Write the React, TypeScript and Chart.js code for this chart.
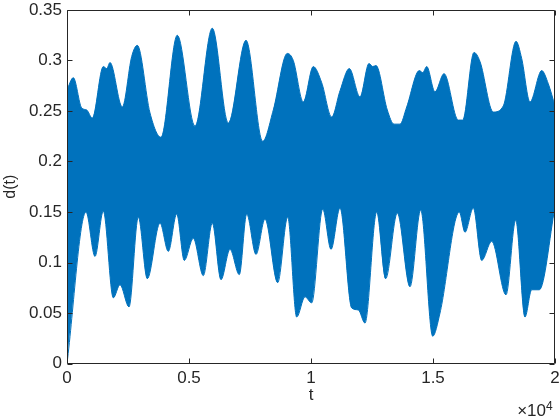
import React, { useEffect, useRef } from "react";
import { Chart, registerables } from "chart.js";

Chart.register(...registerables);

// Upper envelope of d(t)
const tUpper = [0, 258, 602, 807, 1037, 1488, 1627, 1762, 2266, 2652, 2881, 3402, 3852, 4520, 5246, 5955, 6611, 7336, 8020, 8455, 9029, 9275, 9684, 10094, 10439, 10848, 11189, 11570, 12008, 12377, 12529, 12664, 13127, 13402, 13648, 13922, 14439, 14578, 14742, 15082, 15451, 16037, 16217, 16680, 16926, 17471, 17881, 18402, 18635, 18975, 19455, 19725, 20000];
const dUpper = [0.271, 0.283, 0.253, 0.251, 0.243, 0.294, 0.292, 0.298, 0.254, 0.304, 0.315, 0.248, 0.224, 0.325, 0.235, 0.332, 0.238, 0.320, 0.220, 0.251, 0.307, 0.300, 0.259, 0.294, 0.278, 0.244, 0.270, 0.292, 0.264, 0.297, 0.294, 0.295, 0.251, 0.237, 0.237, 0.254, 0.290, 0.288, 0.294, 0.269, 0.287, 0.241, 0.241, 0.308, 0.299, 0.249, 0.255, 0.319, 0.302, 0.259, 0.290, 0.277, 0.255];

// Lower envelope of d(t)
const tLower = [0, 779, 1148, 1488, 1898, 2172, 2541, 2922, 3291, 3811, 4152, 4496, 4807, 5176, 5586, 5955, 6311, 6680, 7061, 7365, 7746, 8115, 8635, 9045, 9414, 9754, 10029, 10480, 10820, 11189, 11668, 11939, 12213, 12693, 13061, 13537, 14057, 14496, 14988, 15287, 16078, 16311, 16652, 16996, 17406, 17992, 18389, 18770, 19045, 19357, 20000];
const dLower = [0.0, 0.150, 0.106, 0.151, 0.065, 0.078, 0.056, 0.145, 0.084, 0.139, 0.111, 0.148, 0.102, 0.124, 0.087, 0.139, 0.083, 0.113, 0.088, 0.148, 0.108, 0.143, 0.080, 0.145, 0.046, 0.066, 0.060, 0.153, 0.113, 0.154, 0.055, 0.053, 0.040, 0.150, 0.084, 0.149, 0.076, 0.152, 0.027, 0.050, 0.150, 0.130, 0.154, 0.102, 0.121, 0.068, 0.142, 0.046, 0.073, 0.073, 0.155];

const xTicks = [0, 5000, 10000, 15000, 20000];
const yTicks = [0, 0.05, 0.1, 0.15, 0.2, 0.25, 0.3, 0.35];

const BLUE = "#0072BD";
const AX = "#262626";
const FONT = "'Liberation Sans', Arial, Helvetica, sans-serif";

const boxPlugin = {
  id: "matlabBox",
  afterDraw(chart: any) {
    const { ctx, chartArea: a, scales } = chart;
    const L = Math.round(a.left) + 0.5;
    const R = Math.round(a.right) - 0.5;
    const T = Math.round(a.top) + 0.5;
    const B = Math.round(a.bottom) - 0.5;
    ctx.save();
    ctx.strokeStyle = AX;
    ctx.lineWidth = 1;
    ctx.beginPath();
    ctx.rect(L, T, R - L, B - T);
    const tl = 5;
    for (const v of xTicks) {
      const px = Math.round(scales.x.getPixelForValue(v)) + 0.5;
      ctx.moveTo(px, B);
      ctx.lineTo(px, B - tl);
      ctx.moveTo(px, T);
      ctx.lineTo(px, T + tl);
    }
    for (const v of yTicks) {
      const py = Math.round(scales.y.getPixelForValue(v)) + 0.5;
      ctx.moveTo(L, py);
      ctx.lineTo(L + tl, py);
      ctx.moveTo(R, py);
      ctx.lineTo(R - tl, py);
    }
    ctx.stroke();
    // exponent label
    ctx.fillStyle = AX;
    ctx.textBaseline = "alphabetic";
    ctx.textAlign = "right";
    ctx.font = `17px ${FONT}`;
    ctx.fillText("\u00d710", 546, 416);
    ctx.textAlign = "left";
    ctx.font = `12px ${FONT}`;
    ctx.fillText("4", 546, 410);
    ctx.restore();
  },
};

export default function App() {
  const ref = useRef<HTMLCanvasElement | null>(null);
  useEffect(() => {
    document.body.style.margin = "0";
    const upper = tUpper.map((t, i) => ({ x: t, y: dUpper[i] }));
    const lower = tLower.map((t, i) => ({ x: t, y: dLower[i] }));
    const chart = new Chart(ref.current as HTMLCanvasElement, {
      type: "line",
      data: {
        datasets: [
          {
            data: upper,
            borderColor: BLUE,
            backgroundColor: BLUE,
            borderWidth: 1,
            pointRadius: 0,
            fill: "+1",
            tension: 0.35,
            cubicInterpolationMode: "monotone",
          },
          {
            data: lower,
            borderColor: BLUE,
            backgroundColor: BLUE,
            borderWidth: 1,
            pointRadius: 0,
            fill: false,
            tension: 0.35,
            cubicInterpolationMode: "monotone",
          },
        ],
      },
      options: {
        responsive: false,
        animation: false,
        devicePixelRatio: 1,
        layout: { padding: { top: 10, right: 5, left: 0, bottom: 0 } },
        plugins: { legend: { display: false }, tooltip: { enabled: false } },
        scales: {
          x: {
            type: "linear",
            min: 0,
            max: 20000,
            afterFit: (s: any) => {
              s.height = 56.5;
              s.paddingLeft = 0;
              s.paddingRight = 0;
            },
            afterBuildTicks: (s: any) => {
              s.ticks = xTicks.map((v) => ({ value: v }));
            },
            grid: { display: false, drawTicks: false, tickLength: 0 },
            border: { display: false },
            ticks: {
              color: AX,
              font: { family: FONT, size: 17 },
              padding: 5,
              maxRotation: 0,
              callback: (v: any) => String(Number(v) / 10000),
            },
            title: {
              display: true,
              text: "t",
              color: AX,
              font: { family: FONT, size: 17 },
              padding: { top: 0, bottom: 14 },
            },
          },
          y: {
            type: "linear",
            min: 0,
            max: 0.35,
            afterFit: (s: any) => {
              s.width = 67;
              s.paddingTop = 0;
              s.paddingBottom = 0;
            },
            afterBuildTicks: (s: any) => {
              s.ticks = yTicks.map((v) => ({ value: v }));
            },
            grid: { display: false, drawTicks: false, tickLength: 0 },
            border: { display: false },
            ticks: {
              color: AX,
              font: { family: FONT, size: 17 },
              padding: 5,
              callback: (v: any) => String(Number(Number(v).toFixed(2))),
            },
            title: {
              display: true,
              text: "d(t)",
              color: AX,
              font: { family: FONT, size: 16 },
              padding: { top: 1, bottom: 0 },
            },
          },
        },
      },
      plugins: [boxPlugin],
    });
    return () => chart.destroy();
  }, []);
  return (
    <div style={{ position: "fixed", left: 0, top: 0, width: 560, height: 420, background: "#fff" }}>
      <canvas ref={ref} width={560} height={420} />
    </div>
  );
}
